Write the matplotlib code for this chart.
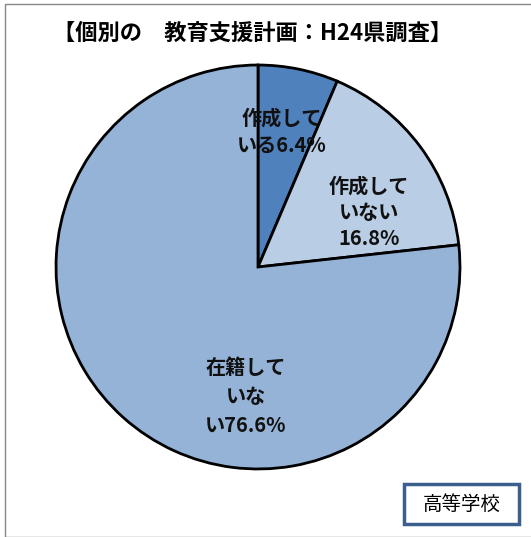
import matplotlib.pyplot as plt
from matplotlib.patches import Rectangle

plt.rcParams['font.family'] = ['Noto Sans CJK JP', 'DejaVu Sans']

# データ
labels = ['作成して\nいる6.4%', '作成して\nいない\n16.8%', '在籍して\nいな\nい76.6%']
values = [6.4, 16.8, 76.6]
colors = ['#4F81BD', '#B9CDE5', '#95B3D7']
label_pos = [(0.12, 0.67), (0.55, 0.27), (-0.06, -0.64)]
title = '【個別の　教育支援計画：H24県調査】'
school = '高等学校'

W, H = 531, 537
fig = plt.figure(figsize=(W / 100, H / 100), dpi=100)

# 外枠
fig.patches.append(Rectangle((5 / W, 0), 1, (H - 4) / H, transform=fig.transFigure,
                             fill=False, edgecolor='#888888', lw=1))

cx, cy, r = 258, 267, 204
ax = fig.add_axes([(cx - r) / W, (H - cy - r) / H, 2 * r / W, 2 * r / H])
ax.pie(values, colors=colors, startangle=90, counterclock=False,
       wedgeprops=dict(edgecolor='black', linewidth=2))
ax.set_xlim(-1.01, 1.01)
ax.set_ylim(-1.01, 1.01)
ax.set_aspect('equal')
ax.axis('off')

for lab, lsp, (x, y) in zip(labels, [1.4, 1.3, 1.45], label_pos):
    ax.text(x, y, lab, ha='center', va='center', fontsize=14.5, fontweight='bold',
            linespacing=lsp, color='#111111')

fig.text(253 / W, 1 - 33 / H, title, ha='center', va='center',
         fontsize=16, fontweight='bold')

# 学校種ボックス
bx0, by0, bx1, by1 = 404, 484, 519, 524
fig.patches.append(Rectangle((bx0 / W, 1 - by1 / H), (bx1 - bx0) / W, (by1 - by0) / H,
                             transform=fig.transFigure, facecolor='white',
                             edgecolor='#3B5E8C', lw=2.5))
fig.text((bx0 + bx1) / 2 / W, 1 - (by0 + by1) / 2 / H, school, ha='center',
         va='center', fontsize=14)

fig.savefig('out.png', dpi=100)
